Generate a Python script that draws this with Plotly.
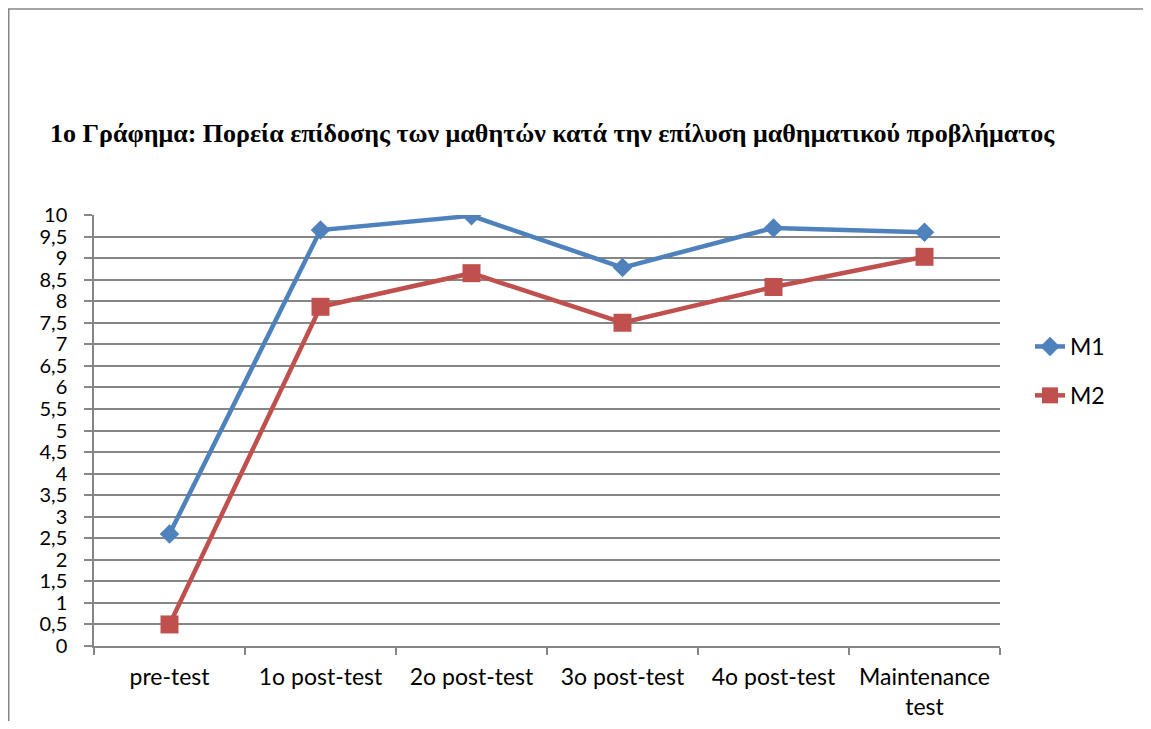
import plotly.graph_objects as go

categories = ["pre-test", "1o post-test", "2o post-test", "3o post-test", "4o post-test", "Maintenance<br>test"]
m1_values = [2.6, 9.65, 9.98, 8.78, 9.7, 9.6]
m2_values = [0.5, 7.87, 8.65, 7.5, 8.33, 9.03]
y_tick_vals = [i * 0.5 for i in range(21)]
y_tick_text = ["0", "0,5", "1", "1,5", "2", "2,5", "3", "3,5", "4", "4,5", "5",
               "5,5", "6", "6,5", "7", "7,5", "8", "8,5", "9", "9,5", "10"]
title_text = "1ο Γράφημα: Πορεία επίδοσης των μαθητών κατά την επίλυση μαθηματικού προβλήματος"

# page offset from default body margin (8px each side)
OFF = 8
W, H = 1151 - 2 * OFF, 729 - 2 * OFF
# plot area in page pixels: x 94..1000, y 215..646
L = 94 - OFF
T = 215 - OFF
R = W - (1000 - OFF)
B = H - (646 - OFF)
pw, ph = W - L - R, H - T - B

def px_x(page_px):
    return (page_px - OFF - L) / pw

def px_y(page_py):
    return (H - B - (page_py - OFF)) / ph

font_main = "Lato, 'Open Sans', sans-serif"
fs = 23

fig = go.Figure()
fig.add_trace(go.Scatter(
    x=categories, y=m1_values, name="M1", mode="lines+markers",
    line=dict(color="#4F81BD", width=4.5),
    marker=dict(symbol="diamond", size=15, color="#4F81BD"),
    legendgroup="a",
))
fig.add_trace(go.Scatter(
    x=categories, y=m2_values, name="M2", mode="lines+markers",
    line=dict(color="#C0504D", width=4.5),
    marker=dict(symbol="square", size=18, color="#C0504D"),
    legendgroup="b",
))

fig.update_layout(
    width=W, height=H,
    margin=dict(l=L, r=R, t=T, b=B, autoexpand=False),
    paper_bgcolor="white", plot_bgcolor="white",
    font=dict(family=font_main, size=fs, color="black"),
    showlegend=True,
    legend=dict(x=px_x(1030), y=px_y(371), xanchor="left", yanchor="middle",
                font=dict(size=fs, family=font_main), tracegroupgap=16,
                bgcolor="rgba(0,0,0,0)"),
    xaxis=dict(
        type="category", range=[-0.5, 5.5],
        showline=True, linecolor="#868686", linewidth=1.5,
        ticks="outside", ticklen=7, tickcolor="#868686", tickwidth=1.5,
        tickson="boundaries", showgrid=False, zeroline=False,
        tickfont=dict(size=fs, family=font_main),
        ticklabelstandoff=10,
    ),
    yaxis=dict(
        range=[0, 10], tickvals=y_tick_vals, ticktext=y_tick_text,
        showline=True, linecolor="#868686", linewidth=1.5,
        ticks="outside", ticklen=8, tickcolor="#868686", tickwidth=1.5,
        showgrid=True, gridcolor="#868686", gridwidth=1.5, zeroline=False,
        tickfont=dict(size=20, family=font_main),
        ticklabelstandoff=13,
    ),
    shapes=[dict(
        type="rect", xref="paper", yref="paper",
        x0=px_x(OFF + 0.75), x1=px_x(1300), y0=px_y(900), y1=px_y(9),
        line=dict(color="#868686", width=1.5), fillcolor="rgba(0,0,0,0)",
        layer="below",
    )],
    annotations=[dict(
        text="<b>" + title_text + "</b>", xref="paper", yref="paper",
        x=px_x(48), y=px_y(133), xanchor="left", yanchor="middle",
        showarrow=False,
        font=dict(family="'Liberation Serif', 'Times New Roman', serif", size=26, color="black"),
    )],
)

fig.write_html("out.html", config={"displayModeBar": False})
